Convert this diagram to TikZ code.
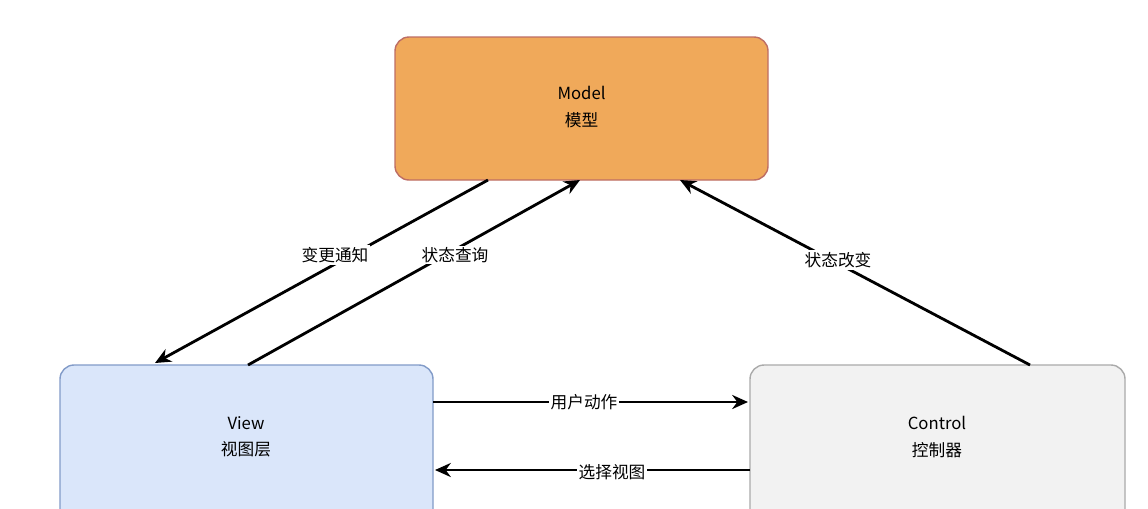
\documentclass[tikz,border=0pt]{standalone}
\usepackage{fontspec}
\setmainfont{Noto Sans CJK SC}
\usetikzlibrary{arrows.meta}
\begin{document}
\begin{tikzpicture}[x=0.02cm,y=-0.02cm,
  box/.style={draw,line width=0.8pt,rounded corners=8pt},
  arr/.style={line width=1.6pt,-{Stealth[length=9pt,width=8pt]}},
  lbl/.style={font=\fontsize{9.5pt}{15pt}\selectfont,inner sep=1pt,align=center}]
\clip (0,0) rectangle (1148,508);
\useasboundingbox (0,0) rectangle (1148,508);
\fill[white] (0,0) rectangle (1148,508);
\draw[box,fill={rgb,255:red,240;green,169;blue,90},draw={rgb,255:red,190;green,110;blue,100}] (395,37) rectangle (768,180);
\node[lbl] (model) at (581.5,107) {Model\\模型};
\draw[box,fill={rgb,255:red,218;green,230;blue,250},draw={rgb,255:red,130;green,155;blue,200}] (60,365) rectangle (433,540);
\node[lbl] (view) at (246,437) {View\\视图层};
\draw[box,fill={rgb,255:red,242;green,242;blue,242},draw={rgb,255:red,170;green,170;blue,170}] (750,365) rectangle (1125,540);
\node[lbl] (ctrl) at (937,437) {Control\\控制器};
\coordinate (m1) at (488,180); \coordinate (v1) at (155,363);
\coordinate (v2) at (248,365); \coordinate (m2) at (580,180);
\coordinate (c1) at (1030,365); \coordinate (m3) at (680,180);
\coordinate (v3) at (433,402); \coordinate (c3) at (748,402);
\coordinate (c4) at (750,470); \coordinate (v4) at (435,470);
\draw[arr] (m1) -- (v1);
\draw[arr] (v2) -- (m2);
\draw[arr] (c1) -- (m3);
\draw[arr] (v3) -- (c3);
\draw[arr] (c4) -- (v4);
\node[lbl,fill=white] (l1) at (335,255) {变更通知};
\node[lbl,fill=white] (l2) at (455,255) {状态查询};
\node[lbl,fill=white] (l3) at (838,260) {状态改变};
\node[lbl,fill=white] (l4) at (584,402) {用户动作};
\node[lbl,fill=white] (l5) at (612,472) {选择视图};
\end{tikzpicture}
\end{document}
